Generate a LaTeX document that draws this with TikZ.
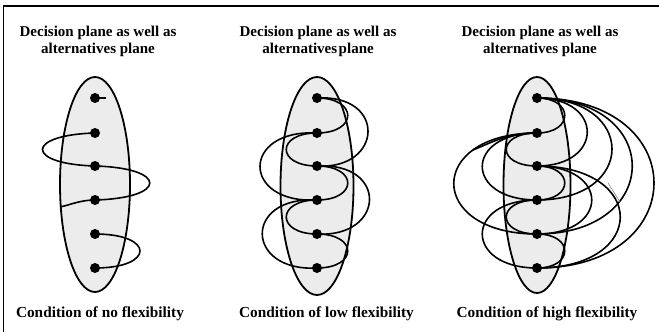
\documentclass[tikz,border=0pt]{standalone}
\usepackage{fontspec}
\setmainfont{Liberation Serif}
\usetikzlibrary{shapes.geometric}
\begin{document}
\begin{tikzpicture}[x=1pt,y=-1pt,
 plane/.style={draw, ellipse, fill=gray!15, line width=1.8pt, inner sep=0pt},
 dotn/.style={circle, fill=black, inner sep=0pt, minimum size=10pt},
 lnk/.style={line width=1.6pt},
 lbl/.style={font=\bfseries\fontsize{15}{17}\selectfont, anchor=base, inner sep=0pt},
 caplbl/.style={font=\bfseries\fontsize{15.3}{18}\selectfont, anchor=base, inner sep=0pt}]
\useasboundingbox (0,0) rectangle (659,332);
\draw[line width=1.8pt] (3.5,332) -- (3.5,6) -- (659,6);
% titles
\node[lbl] (t1a) at (98,36) {Decision plane as well as};
\node[lbl] (t1b) at (98,53) {alternatives plane};
\node[lbl] (t2a) at (318,36) {Decision plane as well as};
\node[lbl] (t2b) at (318,53) {alternatives\hspace{-0.15em} plane};
\node[lbl] (t3a) at (540,36) {Decision plane as well as};
\node[lbl] (t3b) at (540,53) {alternatives plane};
\node[caplbl] (l1) at (100,317.5) {Condition of no flexibility};
\node[caplbl] (l2) at (326.5,317.5) {Condition of low flexibility};
\node[caplbl] (l3) at (547,317.5) {Condition of high flexibility};
% planes
\node[plane, minimum width=70pt, minimum height=215pt] (pa) at (95,184.5) {};
\node[plane, minimum width=73pt, minimum height=218pt] (pb) at (317,186) {};
\node[plane, minimum width=67pt, minimum height=216pt] (pc) at (537,185) {};
% coordinates of the points
\foreach \i/\y in {1/98,2/133,3/166,4/200,5/234,6/268}{
  \coordinate (a\i) at (95,\y);
  \coordinate (b\i) at (317,\y);
  \coordinate (c\i) at (537,\y);
}
\coordinate (a1e) at (106,98);
\coordinate (a4e) at (60,207);
\coordinate (c2e) at (473,150);
\coordinate (g1) at (608,183);
\coordinate (g2) at (620,202);
% panel 1
\draw[lnk] (a1) -- (a1e);
\draw[lnk] (a2) .. controls +(-70,2) and +(-70,-2) .. (a3);
\draw[lnk] (a3) .. controls +(73,2) and +(73,-2) .. (a4);
\draw[lnk] (a4) .. controls +(-15,0) and +(10,-2) .. (a4e);
\draw[lnk] (a5) .. controls +(60,0) and +(60,0) .. (a6);
% panel 2
\draw[lnk] (b1) .. controls +(41,0) and +(41,0) .. (b2);
\draw[lnk] (b2) .. controls +(-41,0) and +(-41,0) .. (b3);
\draw[lnk] (b3) .. controls +(41,0) and +(41,0) .. (b4);
\draw[lnk] (b4) .. controls +(-41,0) and +(-41,0) .. (b5);
\draw[lnk] (b5) .. controls +(41,0) and +(41,0) .. (b6);
\draw[lnk] (b1) .. controls +(70,-4) and +(66,4) .. (b3);
\draw[lnk] (b2) .. controls +(-76,-4) and +(-76,4) .. (b4);
\draw[lnk] (b3) .. controls +(72,-4) and +(68,4) .. (b5);
\draw[lnk] (b4) .. controls +(-74,-4) and +(-72,4) .. (b6);
% panel 3
\draw[lnk] (c1) .. controls +(37,0) and +(37,0) .. (c2);
\draw[lnk] (c1) .. controls +(67,0) and +(67,0) .. (c3);
\draw[lnk] (c1) .. controls +(100,0) and +(100,0) .. (c4);
\draw[lnk] (c1) .. controls +(127,0) and +(127,0) .. (c5);
\draw[lnk] (c1) .. controls +(156,0) and +(156,0) .. (c6);
\draw[lnk] (c3) .. controls +(37,0) and +(37,0) .. (c4);
\draw[lnk] (c3) .. controls +(73,0) and +(73,0) .. (c5);
\draw[lnk] (c3) .. controls +(111,0) and +(111,0) .. (c6);
\draw[lnk] (c5) .. controls +(37,0) and +(37,0) .. (c6);
\draw[lnk] (c2) .. controls +(-41,0) and +(-41,0) .. (c3);
\draw[lnk] (c2) .. controls +(-73,0) and +(-73,0) .. (c4);
\draw[lnk] (c2) .. controls +(-111,0) and +(-111,0) .. (c5);
\draw[lnk] (c2) .. controls +(-30,0) and +(20,-8) .. (c2e);
\draw[lnk] (c4) .. controls +(-41,0) and +(-41,0) .. (c5);
\draw[lnk] (c4) .. controls +(-73,0) and +(-73,0) .. (c6);
\draw[gray, line width=0.6pt] (g1) -- (g2);
% dots
\foreach \p in {a,b,c}{
  \foreach \i in {1,...,6}{
    \node[dotn] (d\p\i) at (\p\i) {};
  }
}
\end{tikzpicture}
\end{document}
